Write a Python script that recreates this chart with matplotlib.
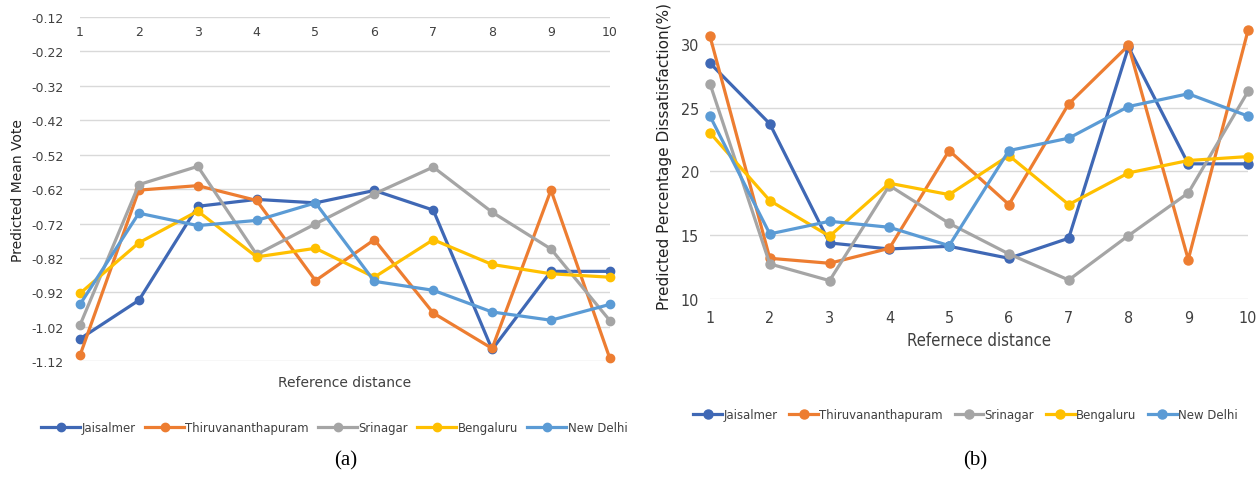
import numpy as np
import matplotlib
matplotlib.use("Agg")
import matplotlib.pyplot as plt
from matplotlib.font_manager import FontProperties

dist = [1, 2, 3, 4, 5, 6, 7, 8, 9, 10]
cities = ['Jaisalmer', 'Thiruvananthapuram', 'Srinagar', 'Bengaluru', 'New Delhi']
colors = ['#3f68b5', '#ed7d31', '#a5a5a5', '#ffc000', '#5b9bd5']

# predicted mean vote (a)
pmv_jaisalmer = [-1.055, -0.943, -0.670, -0.650, -0.660, -0.624, -0.681, -1.086, -0.859, -0.859]
pmv_thiru = [-1.103, -0.623, -0.610, -0.653, -0.886, -0.767, -0.980, -1.083, -0.623, -1.112]
pmv_srinagar = [-1.015, -0.607, -0.554, -0.810, -0.721, -0.634, -0.556, -0.687, -0.794, -1.002]
pmv_bengaluru = [-0.923, -0.776, -0.684, -0.817, -0.792, -0.876, -0.767, -0.839, -0.866, -0.876]
pmv_delhi = [-0.955, -0.690, -0.726, -0.711, -0.660, -0.888, -0.914, -0.977, -1.001, -0.955]

# predicted percentage dissatisfaction (b)
ppd_jaisalmer = [28.48, 23.73, 14.39, 13.92, 14.13, 13.19, 14.76, 29.74, 20.59, 20.59]
ppd_thiru = [30.58, 13.19, 12.80, 13.97, 21.63, 17.40, 25.29, 29.87, 13.09, 31.05]
ppd_srinagar = [26.86, 12.75, 11.44, 18.89, 15.93, 13.53, 11.49, 14.97, 18.31, 26.26]
ppd_bengaluru = [23.02, 17.71, 14.92, 19.07, 18.18, 21.24, 17.40, 19.88, 20.85, 21.16]
ppd_delhi = [24.33, 15.10, 16.09, 15.62, 14.18, 21.63, 22.60, 25.08, 26.08, 24.33]

pmv = [pmv_jaisalmer, pmv_thiru, pmv_srinagar, pmv_bengaluru, pmv_delhi]
ppd = [ppd_jaisalmer, ppd_thiru, ppd_srinagar, ppd_bengaluru, ppd_delhi]
pmv_ticks = [-0.12, -0.22, -0.32, -0.42, -0.52, -0.62, -0.72, -0.82, -0.92, -1.02, -1.12]
ppd_ticks = [10, 15, 20, 25, 30]

fig = plt.figure(figsize=(12.6, 4.81), dpi=100)
grid_c = '#d9d9d9'
txt_c = '#404040'

def cond(size):
    return FontProperties(family='DejaVu Sans', stretch='condensed', size=size)

# ---- (a)
ax1 = fig.add_axes([0.0635, 0.247, 0.4205, 0.7156])
for vals, name, c in zip(pmv, cities, colors):
    ax1.plot(dist, vals, '-o', color=c, lw=2.3, ms=6, label=name, clip_on=False)
ax1.set_xlim(1, 10)
ax1.set_ylim(-1.12, -0.12)
ax1.set_yticks(pmv_ticks)
ax1.set_yticklabels(['%.2f' % t for t in pmv_ticks], fontsize=9, color=txt_c)
ax1.set_xticks(dist)
ax1.xaxis.set_ticks_position('top')
ax1.tick_params(axis='x', pad=-15, length=0, labelsize=9, labelcolor=txt_c)
ax1.tick_params(axis='y', length=0, pad=12)
ax1.grid(axis='y', color=grid_c, lw=1)
ax1.set_axisbelow(True)
for s in ax1.spines.values():
    s.set_visible(False)
ax1.set_ylabel('Predicted Mean Vote', fontsize=10, color='#222222', labelpad=4)
ax1.text(0.5, -0.04, 'Reference distance', transform=ax1.transAxes, ha='center', va='top',
         fontsize=10, color=txt_c)
ax1.legend(loc='upper center', bbox_to_anchor=(0.48, -0.14), ncol=5, frameon=False,
           prop=cond(9.4), handlelength=3.0, handletextpad=0.1, columnspacing=0.7,
           labelcolor=txt_c)
fig.text(0.274, 0.033, '(a)', ha='center', fontsize=15, family='Liberation Serif')

# ---- (b)
ax2 = fig.add_axes([0.5635, 0.3763, 0.427, 0.597])
for vals, name, c in zip(ppd, cities, colors):
    ax2.plot(dist, vals, '-o', color=c, lw=2.3, ms=6.5, label=name, clip_on=False)
ax2.set_xlim(1, 10)
ax2.set_ylim(10, 32.5)
ax2.set_yticks(ppd_ticks)
ax2.set_xticks(dist)
ax2.tick_params(length=0, labelcolor=txt_c)
ax2.tick_params(axis='y', pad=8)
ax2.tick_params(axis='x', pad=8)
for lab in ax2.get_xticklabels() + ax2.get_yticklabels():
    lab.set_fontproperties(cond(11.5))
ax2.grid(axis='y', color=grid_c, lw=1)
ax2.set_axisbelow(True)
for s in ax2.spines.values():
    s.set_visible(False)
ax2.set_ylabel('Predicted Percentage Dissatisfaction(%)', fontsize=11, color='#222222', labelpad=6)
ax2.set_xlabel('Refernece distance', fontproperties=cond(12), color=txt_c, labelpad=4)
ax2.legend(loc='upper center', bbox_to_anchor=(0.475, -0.34), ncol=5, frameon=False,
           prop=cond(9.4), handlelength=2.2, handletextpad=0.1,
           columnspacing=0.9, labelcolor=txt_c)
fig.text(0.774, 0.033, '(b)', ha='center', fontsize=15, family='Liberation Serif')

fig.savefig('out.png', dpi=100, facecolor='white')
